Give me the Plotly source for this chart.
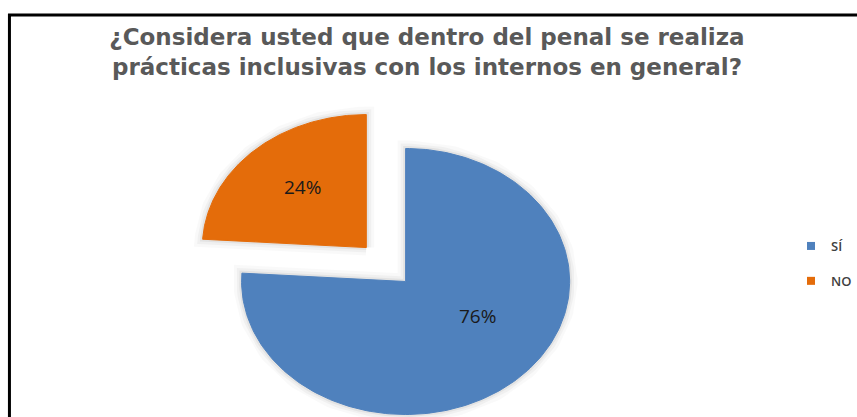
import numpy as np
import plotly.graph_objects as go

categories = ["SÍ", "NO"]
values = [76, 24]
labels_text = ["76%", "24%"]
colors = ["#4F81BD", "#E46C0A"]
pulls = [0.0, 0.35]

W, H = 857, 417
cx_px, cy_px, rx_px, ry_px = 408, 281.5, 165, 133

xr = [(0 - cx_px) / rx_px, (W - cx_px) / rx_px]
yr = [(cy_px - H) / ry_px, (cy_px - 0) / ry_px]

fig = go.Figure()

total = sum(values)
start = 90.0
slices = []
for cat, v, col, p in zip(categories, values, colors, pulls):
    sweep = v / total * 360.0
    a0, a1 = start, start - sweep
    mid = np.deg2rad((a0 + a1) / 2)
    ox, oy = p * np.cos(mid), p * np.sin(mid)
    t = np.deg2rad(np.linspace(a0, a1, 200))
    xs = np.concatenate([[ox], ox + np.cos(t), [ox]])
    ys = np.concatenate([[oy], oy + np.sin(t), [oy]])
    slices.append((cat, xs, ys, col, ox, oy, mid))
    start = a1

# soft shadow
for cat, xs, ys, col, ox, oy, mid in slices:
    for w, a in [(16, 0.025), (10, 0.035), (5, 0.05)]:
        fig.add_trace(go.Scatter(x=xs, y=ys, mode="lines",
                                 line=dict(color=f"rgba(0,0,0,{a})", width=w),
                                 hoverinfo="skip", showlegend=False))

for cat, xs, ys, col, ox, oy, mid in slices:
    fig.add_trace(go.Scatter(x=xs, y=ys, mode="lines", fill="toself",
                             fillcolor=col, line=dict(color=col, width=1),
                             name=cat, showlegend=False, hoverinfo="name"))

# legend entries
for cat, col in zip(categories, colors):
    fig.add_trace(go.Scatter(x=[None], y=[None], mode="markers",
                             marker=dict(symbol="square", size=8, color=col),
                             name=cat, legendgroup=cat, showlegend=True))

# data labels (positions relative to the pie, in axis units)
label_pos = {"SÍ": (0.44, -0.26), "NO": (-0.63, 0.71)}
for (cat, xs, ys, col, ox, oy, mid), txt in zip(slices, labels_text):
    lx, ly = label_pos[cat]
    fig.add_annotation(x=lx, y=ly, text=txt, showarrow=False,
                       font=dict(family="Open Sans", size=19, color="#1a1a1a"))

fig.update_layout(
    width=W, height=H,
    margin=dict(l=0, r=0, t=0, b=0),
    paper_bgcolor="white", plot_bgcolor="white",
    xaxis=dict(range=xr, visible=False, fixedrange=True),
    yaxis=dict(range=yr, visible=False, fixedrange=True),
    title=dict(text="¿Considera usted que dentro del penal se realiza<br>prácticas inclusivas con los internos en general?",
               x=427 / W, xanchor="center", y=1 - 45 / H, yanchor="top",
               font=dict(family="DejaVu Sans", size=23, color="#595959", weight="bold")),
    legend=dict(x=796 / W, y=1 - 231 / H, xanchor="left", yanchor="top",
                font=dict(family="Open Sans", size=13, color="#404040", weight=600),
                tracegroupgap=15, bgcolor="rgba(0,0,0,0)"),
    showlegend=True,
    shapes=[dict(type="rect", xref="paper", yref="paper",
                 x0=9.5 / W, x1=1.05, y0=-0.05, y1=1 - 15 / H,
                 line=dict(color="black", width=3))],
)

fig.write_html("out.html",
               config={"displayModeBar": False},
               post_script="document.body.style.margin='0';document.body.style.overflow='hidden';")
